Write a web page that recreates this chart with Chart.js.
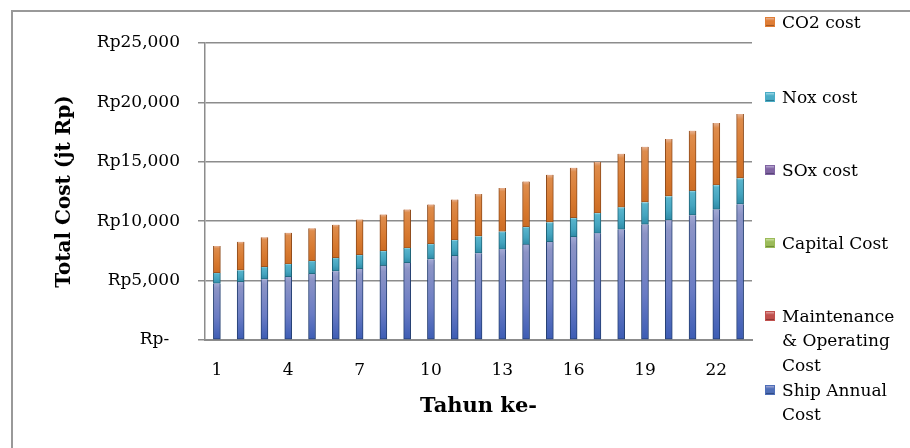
<!DOCTYPE html>
<html lang="id">
<head>
  <meta charset="UTF-8" />
  <title>Total Cost</title>
  <script src="https://cdn.jsdelivr.net/npm/chart.js"></script>
  <style>
    body {
      margin: 0;
      background: #fff;
      font-family: 'DejaVu Serif', serif;
    }
    .wrap {
      position: relative;
      width: 910px;
      height: 448px;
      overflow: hidden;
    }
    .frame {
      position: absolute;
      left: 11px;
      top: 10px;
      width: 920px;
      height: 460px;
      border-left: 2px solid #999;
      border-top: 2px solid #999;
    }
    #chart {
      position: absolute;
      left: 0;
      top: 0;
    }
    .legend-item {
      position: absolute;
      left: 765px;
      width: 140px;
      font-size: 17px;
      line-height: 24.5px;
      color: #000;
    }
    .legend-item .box {
      position: absolute;
      left: 0;
      top: 7px;
      width: 10px;
      height: 10px;
      box-sizing: border-box;
    }
    .legend-item .txt {
      margin-left: 17px;
    }
  </style>
</head>
<body>
  <div class="wrap">
    <div class="frame"></div>
    <canvas id="chart" width="910" height="448"></canvas>
    <div id="legend"></div>
  </div>

  <script>
    const years = ["1","2","3","4","5","6","7","8","9","10","11","12","13","14","15","16","17","18","19","20","21","22","23"];
    const yTicks = [0, 5000, 10000, 15000, 20000, 25000];

    const seriesNames = ["Ship Annual Cost", "Maintenance & Operating Cost", "Capital Cost", "SOx cost", "Nox cost", "CO2 cost"];

    const shipAnnual = [4760,4890,5120,5310,5560,5790,5980,6260,6490,6800,7070,7300,7630,8030,8250,8670,8980,9310,9730,10090,10510,10990,11430];
    const maintenance = [0,0,0,0,0,0,0,0,0,0,0,0,0,0,0,0,0,0,0,0,0,0,0];
    const capital = [0,0,0,0,0,0,0,0,0,0,0,0,0,0,0,0,0,0,0,0,0,0,0];
    const sox = [0,0,0,0,0,0,0,0,0,0,0,0,0,0,0,0,0,0,0,0,0,0,0];
    const nox = [890,990,1030,1080,1100,1120,1180,1230,1250,1280,1340,1440,1500,1480,1660,1600,1700,1860,1870,2020,2050,2050,2190];
    const co2 = [2260,2380,2490,2630,2750,2800,2990,3080,3250,3330,3420,3560,3670,3840,4000,4230,4310,4510,4670,4810,5060,5230,5400];

    // gradient stops (top -> bottom), edge colour, legend box colour
    const styles = [
      { stops: ["#a2a8d4", "#8c94c6", "#6a7cc4", "#3c5cb4"], edge: "#243f72", box: "#4f6fb8" },
      { stops: ["#e0a09e", "#c85a57", "#c0504d", "#a8403d"], edge: "#7a2a28", box: "#c0504d" },
      { stops: ["#cce0a0", "#a6c466", "#9bbb59", "#85a548"], edge: "#5f7a2c", box: "#9bbb59" },
      { stops: ["#b8a8d2", "#8a70ac", "#8064a2", "#6a5290"], edge: "#4a3866", box: "#8064a2" },
      { stops: ["#9ad8e6", "#58b4cc", "#44a4bf", "#2e8aa6"], edge: "#1c6276", box: "#4bacc6" },
      { stops: ["#e6b294", "#de8c4c", "#d87a30", "#cc6c24"], edge: "#8e4a1a", box: "#e07d35" }
    ];

    const allData = [shipAnnual, maintenance, capital, sox, nox, co2];

    function gradFor(st) {
      return function (c) {
        const chart = c.chart;
        const area = chart.chartArea;
        if (!area || c.type !== "data") return st.box;
        const i = c.dataIndex, di = c.datasetIndex;
        let base = 0;
        for (let k = 0; k < di; k++) base += allData[k][i];
        const v = allData[di][i];
        const y0 = chart.scales.y.getPixelForValue(base);
        const y1 = chart.scales.y.getPixelForValue(base + v);
        if (Math.abs(y0 - y1) < 1) return st.box;
        const g = chart.ctx.createLinearGradient(0, y1, 0, y0);
        g.addColorStop(0, st.stops[0]);
        g.addColorStop(0.08, st.stops[1]);
        g.addColorStop(0.6, st.stops[2]);
        g.addColorStop(1, st.stops[3]);
        return g;
      };
    }

    const datasets = seriesNames.map((name, i) => ({
      label: name,
      data: allData[i],
      backgroundColor: gradFor(styles[i]),
      borderColor: styles[i].edge,
      borderWidth: { left: 1, right: 1, top: 0, bottom: 1 },
      borderSkipped: false,
      barThickness: 7
    }));

    new Chart(document.getElementById("chart"), {
      type: "bar",
      data: { labels: years, datasets: datasets },
      options: {
        responsive: false,
        animation: false,
        layout: { padding: { left: 12, right: 158, top: 43, bottom: 0 } },
        plugins: {
          legend: { display: false },
          tooltip: { enabled: false }
        },
        scales: {
          x: {
            stacked: true,
            offset: true,
            grid: { display: false, drawTicks: false },
            border: { display: true, color: "#8c8c8c", width: 2 },
            ticks: {
              autoSkip: false,
              maxRotation: 0,
              padding: 20,
              color: "#000",
              font: { family: "DejaVu Serif", size: 17 },
              callback: (v, i) => (i % 3 === 0 ? years[i] : "")
            },
            title: {
              display: true,
              text: "Tahun ke-",
              color: "#000",
              font: { family: "DejaVu Serif", size: 21, weight: "bold" },
              padding: { top: 0, bottom: 29 }
            },
            afterFit: (s) => { s.height = 108; }
          },
          y: {
            stacked: true,
            min: 0,
            max: 25000,
            afterBuildTicks: (s) => { s.ticks = yTicks.map(v => ({ value: v })); },
            grid: { color: "#8c8c8c", lineWidth: 1.5, tickLength: 7 },
            border: { display: true, color: "#8c8c8c", width: 1.5 },
            ticks: {
              padding: 18,
              color: "#000",
              font: { family: "DejaVu Serif", size: 17 },
              callback: (v) => (v === 0 ? "Rp-  " : "Rp" + v.toLocaleString("en-US"))
            },
            title: {
              display: true,
              text: "Total Cost (jt Rp)",
              color: "#000",
              font: { family: "DejaVu Serif", size: 20, weight: "bold" },
              padding: { top: 41, bottom: 0 }
            },
            afterFit: (s) => { s.width = 193; }
          }
        }
      }
    });

    // legend, top entry first like the original
    const legendCentres = [390, 316, 243, 170, 97, 22];
    const legend = document.getElementById("legend");
    seriesNames.forEach((name, i) => {
      const st = styles[i];
      const item = document.createElement("div");
      item.className = "legend-item";
      item.style.top = (legendCentres[i] - 12.25) + "px";
      const box = document.createElement("span");
      box.className = "box";
      box.style.background = "linear-gradient(" + st.stops[0] + ", " + st.box + " 35%, " + st.box + " 80%, " + st.edge + ")";
      box.style.border = "1px solid " + st.box;
      const txt = document.createElement("div");
      txt.className = "txt";
      txt.textContent = name;
      item.appendChild(box);
      item.appendChild(txt);
      legend.appendChild(item);
    });
  </script>
</body>
</html>
